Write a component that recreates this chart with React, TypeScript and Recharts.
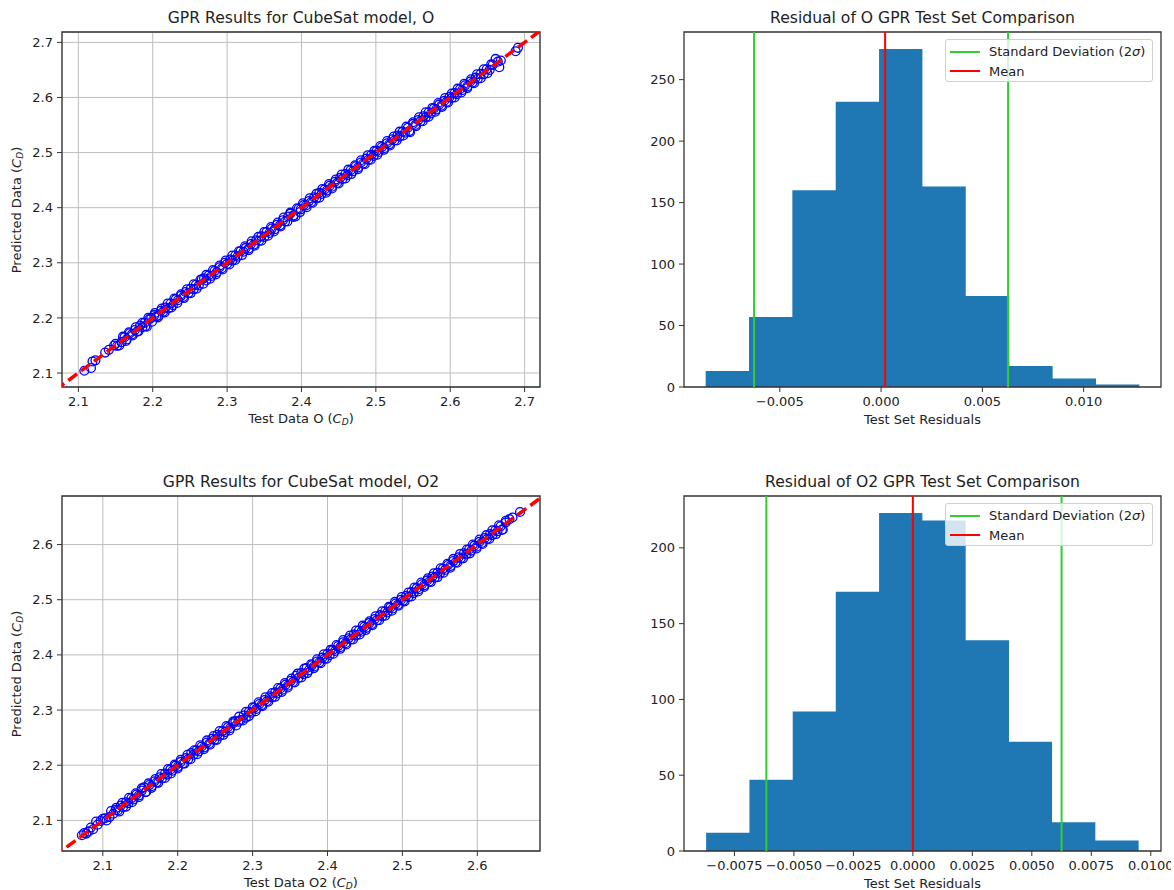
import {
  ScatterChart,
  Scatter,
  AreaChart,
  Area,
  XAxis,
  YAxis,
  CartesianGrid,
  ReferenceLine,
  ReferenceArea,
} from "recharts";

const FONT = '"DejaVu Sans", sans-serif';
const TXT = "#222";

// test vs predicted C_D, model O
const pairsO: [number, number][] = [
  [2.108, 2.104], [2.117, 2.109], [2.119, 2.121], [2.123, 2.123], [2.136, 2.137],
  [2.141, 2.142], [2.148, 2.150], [2.152, 2.149], [2.158, 2.156], [2.162, 2.165],
  [2.165, 2.161], [2.169, 2.172], [2.172, 2.170], [2.176, 2.178], [2.179, 2.175],
  [2.183, 2.186], [2.186, 2.183], [2.189, 2.191], [2.192, 2.184], [2.195, 2.197],
  [2.198, 2.200], [2.202, 2.205], [2.205, 2.203], [2.208, 2.204], [2.211, 2.213],
  [2.214, 2.211], [2.217, 2.219], [2.221, 2.217], [2.224, 2.226], [2.227, 2.223],
  [2.231, 2.234], [2.234, 2.232], [2.238, 2.240], [2.241, 2.238], [2.244, 2.247],
  [2.248, 2.245], [2.251, 2.253], [2.255, 2.252], [2.258, 2.260], [2.262, 2.259],
  [2.266, 2.270], [2.269, 2.272], [2.272, 2.268], [2.275, 2.277], [2.279, 2.276],
  [2.283, 2.285], [2.286, 2.283], [2.290, 2.292], [2.293, 2.290], [2.297, 2.300],
  [2.300, 2.298], [2.304, 2.306], [2.307, 2.304], [2.311, 2.313], [2.314, 2.311],
  [2.318, 2.321], [2.322, 2.320], [2.325, 2.327], [2.329, 2.326], [2.332, 2.334],
  [2.336, 2.333], [2.339, 2.341], [2.343, 2.340], [2.346, 2.348], [2.350, 2.347],
  [2.353, 2.356], [2.357, 2.354], [2.360, 2.362], [2.364, 2.361], [2.367, 2.369],
  [2.371, 2.368], [2.375, 2.377], [2.378, 2.375], [2.382, 2.384], [2.385, 2.389],
  [2.389, 2.386], [2.392, 2.384], [2.396, 2.398], [2.399, 2.397], [2.403, 2.405],
  [2.406, 2.404], [2.410, 2.412], [2.413, 2.410], [2.417, 2.419], [2.420, 2.417],
  [2.424, 2.427], [2.427, 2.425], [2.431, 2.433], [2.434, 2.431], [2.438, 2.440],
  [2.441, 2.438], [2.445, 2.447], [2.448, 2.445], [2.452, 2.454], [2.455, 2.452],
  [2.459, 2.461], [2.462, 2.459], [2.466, 2.468], [2.469, 2.466], [2.473, 2.475],
  [2.476, 2.473], [2.480, 2.482], [2.483, 2.480], [2.487, 2.489], [2.490, 2.487],
  [2.494, 2.496], [2.497, 2.494], [2.501, 2.503], [2.504, 2.501], [2.508, 2.510],
  [2.511, 2.508], [2.515, 2.517], [2.518, 2.515], [2.522, 2.524], [2.525, 2.522],
  [2.529, 2.531], [2.532, 2.529], [2.536, 2.538], [2.539, 2.536], [2.543, 2.545],
  [2.546, 2.537], [2.550, 2.552], [2.553, 2.550], [2.557, 2.559], [2.560, 2.557],
  [2.564, 2.566], [2.567, 2.564], [2.571, 2.573], [2.574, 2.571], [2.578, 2.580],
  [2.581, 2.578], [2.585, 2.587], [2.588, 2.585], [2.592, 2.594], [2.595, 2.592],
  [2.599, 2.601], [2.602, 2.599], [2.606, 2.608], [2.609, 2.606], [2.613, 2.615],
  [2.616, 2.613], [2.620, 2.622], [2.623, 2.620], [2.627, 2.629], [2.630, 2.627],
  [2.634, 2.636], [2.637, 2.634], [2.641, 2.643], [2.645, 2.642], [2.649, 2.651],
  [2.653, 2.650], [2.657, 2.659], [2.661, 2.670], [2.664, 2.665], [2.666, 2.655],
  [2.668, 2.667], [2.688, 2.684], [2.691, 2.690],
  [2.150, 2.153], [2.155, 2.150], [2.160, 2.166], [2.164, 2.158], [2.168, 2.174],
  [2.173, 2.168], [2.177, 2.183], [2.181, 2.176], [2.186, 2.191], [2.190, 2.185],
  [2.194, 2.200], [2.199, 2.193], [2.203, 2.209], [2.207, 2.201], [2.212, 2.217],
  [2.216, 2.210], [2.220, 2.226], [2.225, 2.219], [2.229, 2.235], [2.233, 2.227],
  [2.238, 2.243], [2.242, 2.236], [2.246, 2.252], [2.251, 2.245], [2.255, 2.261],
  [2.259, 2.253], [2.264, 2.269], [2.268, 2.262], [2.272, 2.278], [2.277, 2.271],
  [2.281, 2.287], [2.285, 2.279], [2.290, 2.295], [2.294, 2.288], [2.298, 2.304],
  [2.303, 2.297], [2.307, 2.313], [2.311, 2.305], [2.316, 2.321], [2.320, 2.314],
  [2.324, 2.330], [2.329, 2.323], [2.333, 2.339], [2.337, 2.331], [2.342, 2.347],
  [2.346, 2.340], [2.350, 2.356], [2.355, 2.349], [2.359, 2.365], [2.363, 2.357],
  [2.368, 2.373], [2.372, 2.366], [2.376, 2.382], [2.381, 2.375], [2.385, 2.391],
  [2.389, 2.383], [2.394, 2.399], [2.398, 2.392], [2.402, 2.408], [2.407, 2.401],
  [2.411, 2.417], [2.415, 2.409], [2.420, 2.425], [2.424, 2.418], [2.428, 2.434],
  [2.433, 2.427], [2.437, 2.443], [2.441, 2.435], [2.446, 2.451], [2.450, 2.444],
  [2.454, 2.460], [2.459, 2.453], [2.463, 2.469], [2.467, 2.461], [2.472, 2.477],
  [2.476, 2.470], [2.480, 2.486], [2.485, 2.479], [2.489, 2.495], [2.493, 2.487],
  [2.498, 2.503], [2.502, 2.496], [2.506, 2.512], [2.511, 2.505], [2.515, 2.521],
  [2.519, 2.513], [2.524, 2.529], [2.528, 2.522], [2.532, 2.538], [2.537, 2.531],
  [2.541, 2.547], [2.545, 2.539], [2.550, 2.555], [2.554, 2.548], [2.558, 2.564],
  [2.563, 2.557], [2.567, 2.573], [2.571, 2.565], [2.576, 2.581], [2.580, 2.574],
  [2.584, 2.590], [2.589, 2.583], [2.593, 2.599], [2.597, 2.591], [2.602, 2.607],
  [2.606, 2.600], [2.610, 2.616], [2.615, 2.609], [2.619, 2.625], [2.623, 2.617],
  [2.628, 2.633], [2.632, 2.626], [2.636, 2.642], [2.641, 2.635], [2.645, 2.651],
  [2.650, 2.644], [2.655, 2.660],
];

// test vs predicted C_D, model O2
const pairsO2: [number, number][] = [
  [2.072, 2.073], [2.075, 2.077], [2.078, 2.076], [2.081, 2.080], [2.084, 2.087],
  [2.087, 2.084], [2.091, 2.098], [2.093, 2.092], [2.097, 2.099], [2.103, 2.104],
  [2.109, 2.106], [2.111, 2.117], [2.114, 2.112], [2.117, 2.119], [2.120, 2.118],
  [2.124, 2.127], [2.127, 2.124], [2.131, 2.133], [2.134, 2.131], [2.138, 2.140],
  [2.141, 2.138], [2.145, 2.147], [2.148, 2.145], [2.152, 2.154], [2.155, 2.160],
  [2.158, 2.152], [2.162, 2.164], [2.165, 2.162], [2.169, 2.171], [2.172, 2.169],
  [2.176, 2.178], [2.179, 2.176], [2.183, 2.185], [2.186, 2.183], [2.190, 2.192],
  [2.193, 2.190], [2.197, 2.199], [2.200, 2.197], [2.204, 2.206], [2.207, 2.203],
  [2.211, 2.213], [2.214, 2.211], [2.218, 2.222], [2.221, 2.219], [2.225, 2.227],
  [2.228, 2.225], [2.232, 2.234], [2.235, 2.232], [2.239, 2.241], [2.242, 2.239],
  [2.246, 2.248], [2.249, 2.246], [2.253, 2.255], [2.256, 2.253], [2.260, 2.262],
  [2.263, 2.260], [2.267, 2.269], [2.270, 2.267], [2.274, 2.276], [2.277, 2.280],
  [2.281, 2.279], [2.284, 2.282], [2.288, 2.290], [2.291, 2.286], [2.295, 2.297],
  [2.298, 2.295], [2.302, 2.304], [2.305, 2.302], [2.309, 2.311], [2.312, 2.309],
  [2.316, 2.318], [2.319, 2.316], [2.323, 2.325], [2.326, 2.323], [2.330, 2.332],
  [2.333, 2.330], [2.337, 2.339], [2.340, 2.337], [2.344, 2.346], [2.347, 2.344],
  [2.351, 2.353], [2.354, 2.351], [2.358, 2.362], [2.361, 2.358], [2.365, 2.367],
  [2.368, 2.365], [2.372, 2.376], [2.375, 2.372], [2.379, 2.381], [2.382, 2.379],
  [2.386, 2.388], [2.389, 2.386], [2.393, 2.395], [2.396, 2.393], [2.400, 2.402],
  [2.403, 2.400], [2.407, 2.409], [2.410, 2.407], [2.414, 2.416], [2.417, 2.414],
  [2.421, 2.423], [2.424, 2.421], [2.428, 2.430], [2.431, 2.428], [2.435, 2.437],
  [2.438, 2.435], [2.442, 2.444], [2.445, 2.442], [2.449, 2.451], [2.452, 2.449],
  [2.456, 2.458], [2.459, 2.456], [2.463, 2.465], [2.466, 2.463], [2.470, 2.472],
  [2.473, 2.470], [2.477, 2.479], [2.480, 2.477], [2.484, 2.486], [2.487, 2.484],
  [2.491, 2.493], [2.494, 2.491], [2.498, 2.500], [2.501, 2.498], [2.505, 2.507],
  [2.508, 2.505], [2.512, 2.514], [2.515, 2.512], [2.519, 2.521], [2.522, 2.519],
  [2.526, 2.528], [2.529, 2.526], [2.533, 2.535], [2.536, 2.533], [2.540, 2.542],
  [2.543, 2.540], [2.547, 2.549], [2.550, 2.547], [2.554, 2.556], [2.557, 2.554],
  [2.561, 2.563], [2.564, 2.561], [2.568, 2.570], [2.571, 2.568], [2.575, 2.577],
  [2.578, 2.575], [2.582, 2.584], [2.585, 2.582], [2.589, 2.591], [2.592, 2.589],
  [2.596, 2.598], [2.599, 2.596], [2.603, 2.605], [2.606, 2.603], [2.610, 2.612],
  [2.613, 2.610], [2.617, 2.619], [2.620, 2.617], [2.624, 2.626], [2.627, 2.624],
  [2.631, 2.633], [2.634, 2.627], [2.638, 2.640], [2.643, 2.646], [2.647, 2.649],
  [2.657, 2.659],
  [2.100, 2.103], [2.105, 2.100], [2.118, 2.123], [2.122, 2.116], [2.126, 2.132],
  [2.131, 2.125], [2.135, 2.141], [2.139, 2.133], [2.144, 2.149], [2.148, 2.142],
  [2.152, 2.158], [2.157, 2.151], [2.161, 2.167], [2.165, 2.159], [2.170, 2.175],
  [2.174, 2.168], [2.178, 2.184], [2.183, 2.177], [2.187, 2.193], [2.191, 2.185],
  [2.196, 2.201], [2.200, 2.194], [2.204, 2.210], [2.209, 2.203], [2.213, 2.219],
  [2.217, 2.211], [2.222, 2.227], [2.226, 2.220], [2.230, 2.236], [2.235, 2.229],
  [2.239, 2.245], [2.243, 2.237], [2.248, 2.253], [2.252, 2.246], [2.256, 2.262],
  [2.261, 2.255], [2.265, 2.271], [2.269, 2.263], [2.274, 2.279], [2.278, 2.272],
  [2.282, 2.288], [2.287, 2.281], [2.291, 2.297], [2.295, 2.289], [2.300, 2.305],
  [2.304, 2.298], [2.308, 2.314], [2.313, 2.307], [2.317, 2.323], [2.321, 2.315],
  [2.326, 2.331], [2.330, 2.324], [2.334, 2.340], [2.339, 2.333], [2.343, 2.349],
  [2.347, 2.341], [2.352, 2.357], [2.356, 2.350], [2.360, 2.366], [2.365, 2.359],
  [2.369, 2.375], [2.373, 2.367], [2.378, 2.383], [2.382, 2.376], [2.386, 2.392],
  [2.391, 2.385], [2.395, 2.401], [2.399, 2.393], [2.404, 2.409], [2.408, 2.402],
  [2.412, 2.418], [2.417, 2.411], [2.421, 2.427], [2.425, 2.419], [2.430, 2.435],
  [2.434, 2.428], [2.438, 2.444], [2.443, 2.437], [2.447, 2.453], [2.451, 2.445],
  [2.456, 2.461], [2.460, 2.454], [2.464, 2.470], [2.469, 2.463], [2.473, 2.479],
  [2.477, 2.471], [2.482, 2.487], [2.486, 2.480], [2.490, 2.496], [2.495, 2.489],
  [2.499, 2.505], [2.503, 2.497], [2.508, 2.513], [2.512, 2.506], [2.516, 2.522],
  [2.521, 2.515], [2.525, 2.531], [2.529, 2.523], [2.534, 2.539], [2.538, 2.532],
  [2.542, 2.548], [2.547, 2.541], [2.551, 2.557], [2.555, 2.549], [2.560, 2.565],
  [2.564, 2.558], [2.568, 2.574], [2.573, 2.567], [2.577, 2.583], [2.581, 2.575],
  [2.586, 2.591], [2.590, 2.584], [2.594, 2.600], [2.599, 2.593], [2.603, 2.609],
  [2.607, 2.601], [2.612, 2.617], [2.616, 2.610], [2.620, 2.626], [2.625, 2.619],
  [2.629, 2.635], [2.633, 2.627], [2.638, 2.643],
];

const ticksO = [2.1, 2.2, 2.3, 2.4, 2.5, 2.6, 2.7];
const ticksO2 = [2.1, 2.2, 2.3, 2.4, 2.5, 2.6];
const xDomO = [2.078, 2.7207];
const yDomO = [2.0746, 2.7188];
const xDomO2 = [2.0455, 2.6837];
const yDomO2 = [2.0445, 2.688];
// ideal y = x reference, as two endpoints
const diag = [2.0, 2.8];

// residual histograms
const edgesO = [-0.00866, -0.00652, -0.00438, -0.00224, -0.0001, 0.00204, 0.00418, 0.00633, 0.00847, 0.01061, 0.01275];
const countsO = [13, 57, 160, 232, 275, 163, 74, 17, 7, 2];
const edgesO2 = [-0.00869, -0.00687, -0.00505, -0.00324, -0.00142, 0.0004, 0.00222, 0.00404, 0.00585, 0.00767, 0.00949];
const countsO2 = [12, 47, 92, 171, 223, 218, 139, 72, 19, 7];
const meanO = 0.0002;
const sdO = [-0.00627, 0.00627];
const meanO2 = 0;
const sdO2 = [-0.00616, 0.00625];
const resTicksO = [-0.005, 0, 0.005, 0.01];
const resTicksO2 = [-0.0075, -0.005, -0.0025, 0, 0.0025, 0.005, 0.0075, 0.01];
const cntTicksO = [0, 50, 100, 150, 200, 250];
const cntTicksO2 = [0, 50, 100, 150, 200];
const resDomO = [-0.00973, 0.01382];
const cntDomO = [0, 288.75];
const resDomO2 = [-0.00962, 0.01043];
const cntDomO2 = [0, 234.2];

type Box = { l: number; t: number; r: number; b: number };
const BOX_TL: Box = { l: 62, t: 32, r: 540, b: 387 };
const BOX_TR: Box = { l: 684, t: 32, r: 1161, b: 387 };
const BOX_BL: Box = { l: 62, t: 496, r: 540, b: 851 };
const BOX_BR: Box = { l: 684, t: 496, r: 1161, b: 851 };

const tickStyle = { fontSize: 13, fill: TXT, fontFamily: FONT };
const fmt = (d: number) => (v: number) =>
  (v < 0 ? "\u2212" : "") + Math.abs(v).toFixed(d);

function frame(b: Box) {
  return {
    position: "absolute" as const,
    left: b.l - 60,
    top: b.t - 10,
    width: b.r - b.l + 70,
    height: b.b - b.t + 50,
  };
}

const CD = (
  <>
    <i>C</i>
    <sub style={{ fontSize: "0.7em", verticalAlign: "-0.3em" }}>
      <i>D</i>
    </sub>
  </>
);

function Texts({ b, title, xLabel, yLabel }: any) {
  const cx = (b.l + b.r) / 2;
  const common = {
    position: "absolute" as const,
    transform: "translate(-50%, -50%)",
    whiteSpace: "nowrap" as const,
    color: TXT,
    fontFamily: FONT,
  };
  return (
    <>
      <div style={{ ...common, left: cx, top: b.t - 14, fontSize: 15.6 }}>{title}</div>
      <div style={{ ...common, left: cx, top: b.b + 32, fontSize: 13 }}>{xLabel}</div>
      {yLabel && (
        <div
          style={{
            ...common,
            left: b.l - 45,
            top: (b.t + b.b) / 2,
            fontSize: 13,
            transform: "translate(-50%, -50%) rotate(-90deg)",
          }}
        >
          {yLabel}
        </div>
      )}
    </>
  );
}

function ScatterPanel({ b, pairs, xDom, yDom, ticks }: any) {
  const f = frame(b);
  const data = pairs.map(([x, y]: [number, number]) => ({ x, y }));
  const diagData = diag.map((v) => ({ x: v, y: v }));
  return (
    <div style={f}>
      <ScatterChart width={f.width} height={f.height} margin={{ top: 10, right: 10, bottom: 10, left: 10 }}>
        <CartesianGrid stroke="#bdbdbd" strokeWidth={1} />
        <XAxis
          type="number"
          dataKey="x"
          domain={xDom}
          ticks={ticks}
          allowDataOverflow
          height={30}
          axisLine={false}
          tickSize={5}
          tickMargin={5}
          tickLine={{ stroke: "#333" }}
          tick={tickStyle}
          tickFormatter={fmt(1)}
        />
        <YAxis
          type="number"
          dataKey="y"
          domain={yDom}
          ticks={ticks}
          allowDataOverflow
          width={50}
          axisLine={false}
          tickSize={5}
          tickMargin={4}
          tickLine={{ stroke: "#333" }}
          tick={tickStyle}
          tickFormatter={fmt(1)}
        />
        <Scatter
          data={data}
          isAnimationActive={false}
          shape={(p: any) => (
            <circle cx={p.cx} cy={p.cy} r={4.4} fill="none" stroke="#0000ff" strokeWidth={1.3} />
          )}
        />
        <Scatter
          data={diagData}
          isAnimationActive={false}
          line={{ stroke: "#ff0000", strokeWidth: 3.5, strokeDasharray: "11 5" }}
          shape={() => <g />}
        />
        <ReferenceArea x1={xDom[0]} x2={xDom[1]} y1={yDom[0]} y2={yDom[1]} fill="none" stroke="#333" strokeWidth={1.3} />
      </ScatterChart>
    </div>
  );
}

function HistPanel({ b, edges, counts, mean, sd, xDom, yDom, xTicks, yTicks, digits }: any) {
  const f = frame(b);
  const data = edges.map((e: number, i: number) => ({ x: e, y: counts[Math.min(i, counts.length - 1)] }));
  return (
    <div style={f}>
      <AreaChart width={f.width} height={f.height} data={data} margin={{ top: 10, right: 10, bottom: 10, left: 10 }}>
        <XAxis
          type="number"
          dataKey="x"
          domain={xDom}
          ticks={xTicks}
          allowDataOverflow
          height={30}
          axisLine={false}
          tickSize={5}
          tickMargin={5}
          tickLine={{ stroke: "#333" }}
          tick={tickStyle}
          tickFormatter={fmt(digits)}
        />
        <YAxis
          type="number"
          domain={yDom}
          ticks={yTicks}
          allowDataOverflow
          width={50}
          axisLine={false}
          tickSize={5}
          tickMargin={4}
          tickLine={{ stroke: "#333" }}
          tick={tickStyle}
        />
        <Area
          type="stepAfter"
          dataKey="y"
          fill="#1f77b4"
          fillOpacity={1}
          stroke="none"
          isAnimationActive={false}
        />
        {sd.map((v: number) => (
          <ReferenceLine key={v} x={v} stroke="#32cd32" strokeWidth={2} />
        ))}
        <ReferenceLine x={mean} stroke="#ff0000" strokeWidth={2} />
        <ReferenceArea x1={xDom[0]} x2={xDom[1]} y1={yDom[0]} y2={yDom[1]} fill="none" stroke="#333" strokeWidth={1.3} />
      </AreaChart>
    </div>
  );
}

function LegendBox({ b }: { b: Box }) {
  const row = (color: string, label: any) => (
    <div style={{ display: "flex", alignItems: "center", height: 19.5 }}>
      <div style={{ width: 30, height: 2.2, background: color, marginLeft: 4, marginRight: 9 }} />
      <span>{label}</span>
    </div>
  );
  return (
    <div
      style={{
        position: "absolute",
        left: b.l + 261,
        top: b.t + 7,
        width: 208,
        height: 43,
        boxSizing: "border-box",
        border: "1px solid #d0d0d0",
        borderRadius: 3,
        background: "rgba(255,255,255,0.8)",
        fontFamily: FONT,
        fontSize: 13,
        color: TXT,
        paddingTop: 2,
      }}
    >
      {row("#32cd32", <>Standard Deviation (2<i>σ</i>)</>)}
      {row("#ff0000", "Mean")}
    </div>
  );
}

export default function App() {
  return (
    <div style={{ position: "absolute", left: 0, top: 0, width: 1174, height: 890, background: "#fff" }}>
      <ScatterPanel b={BOX_TL} pairs={pairsO} xDom={xDomO} yDom={yDomO} ticks={ticksO} />
      <Texts b={BOX_TL} title="GPR Results for CubeSat model, O" xLabel={<>Test Data O ({CD})</>} yLabel={<>Predicted Data ({CD})</>} />

      <HistPanel b={BOX_TR} edges={edgesO} counts={countsO} mean={meanO} sd={sdO} xDom={resDomO} yDom={cntDomO} xTicks={resTicksO} yTicks={cntTicksO} digits={3} />
      <Texts b={BOX_TR} title="Residual of O GPR Test Set Comparison" xLabel="Test Set Residuals" />
      <LegendBox b={BOX_TR} />

      <ScatterPanel b={BOX_BL} pairs={pairsO2} xDom={xDomO2} yDom={yDomO2} ticks={ticksO2} />
      <Texts b={BOX_BL} title="GPR Results for CubeSat model, O2" xLabel={<>Test Data O2 ({CD})</>} yLabel={<>Predicted Data ({CD})</>} />

      <HistPanel b={BOX_BR} edges={edgesO2} counts={countsO2} mean={meanO2} sd={sdO2} xDom={resDomO2} yDom={cntDomO2} xTicks={resTicksO2} yTicks={cntTicksO2} digits={4} />
      <Texts b={BOX_BR} title="Residual of O2 GPR Test Set Comparison" xLabel="Test Set Residuals" />
      <LegendBox b={BOX_BR} />
    </div>
  );
}
